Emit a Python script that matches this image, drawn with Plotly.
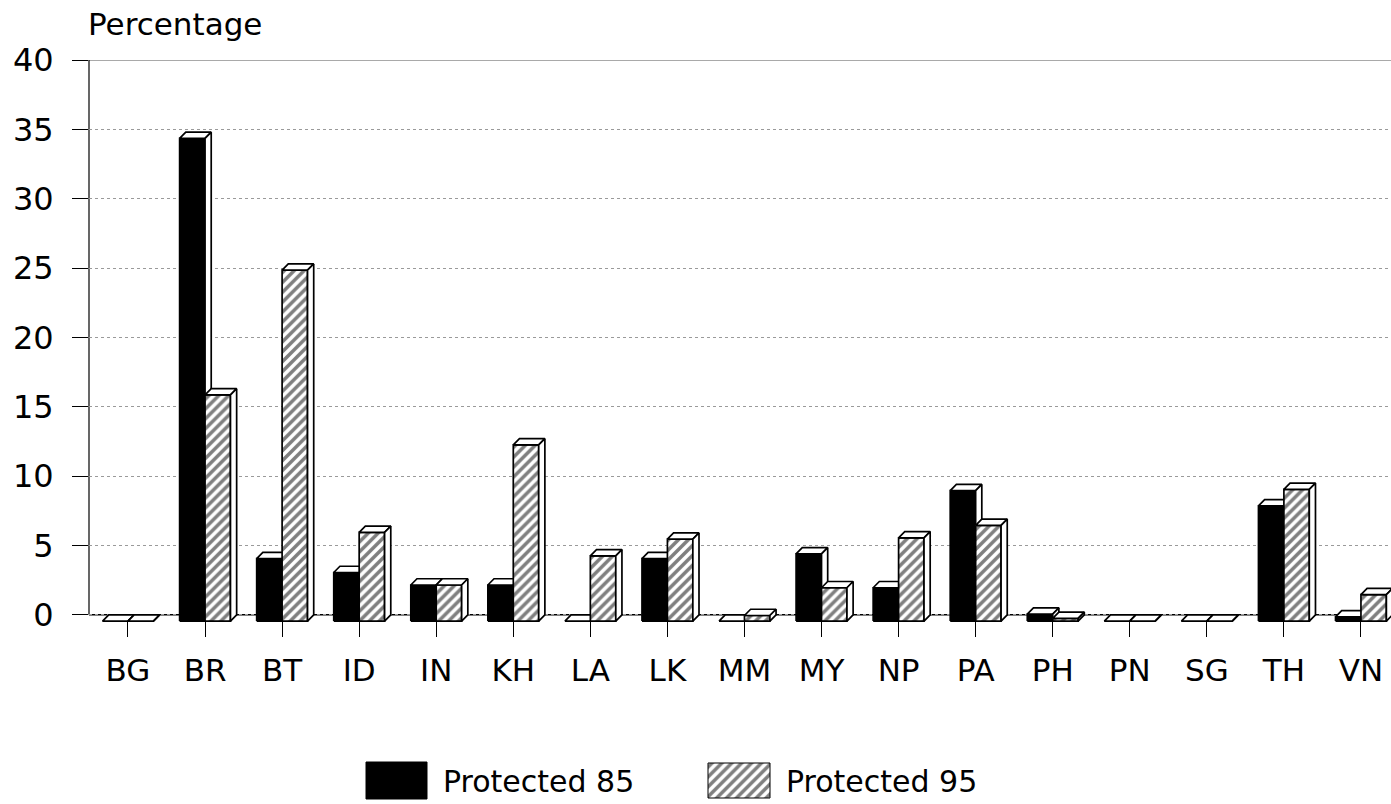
import plotly.graph_objects as go

# ---- data -------------------------------------------------------------
countries = ["BG", "BR", "BT", "ID", "IN", "KH", "LA", "LK", "MM",
             "MY", "NP", "PA", "PH", "PN", "SG", "TH", "VN"]
protected_85 = [0.0, 34.8, 4.5, 3.5, 2.6, 2.6, 0.0, 4.5, 0.0,
                4.85, 2.4, 9.4, 0.5, 0.0, 0.0, 8.3, 0.3]
protected_95 = [0.0, 16.3, 25.3, 6.4, 2.6, 12.7, 4.7, 5.9, 0.4,
                2.4, 6.0, 6.9, 0.2, 0.0, 0.0, 9.5, 1.9]
y_ticks = [0, 5, 10, 15, 20, 25, 30, 35, 40]
series_names = ["Protected 85", "Protected 95"]

# ---- geometry of the pseudo-3D bars (axis units) ----------------------
BAR_W = 0.33      # width of one bar's front face
DEPTH_X = 0.08    # horizontal depth offset
DEPTH_Y = 0.45    # vertical depth offset

W, H = 1391, 804
FONT = "DejaVu Sans"
X_RANGE = [-0.506, 16.39]
Y_RANGE = [-1.6, 40]


def bar_faces(values, offset):
    """Front, top and side polygons for a row of bars (None-separated)."""
    fx, fy, tx, ty, sx, sy = [], [], [], [], [], []
    for i, v in enumerate(values):
        x0 = i + offset
        x1 = x0 + BAR_W
        y0 = -DEPTH_Y
        y1 = v - DEPTH_Y
        fx += [x0, x1, x1, x0, x0, None]
        fy += [y0, y0, y1, y1, y0, None]
        tx += [x0, x1, x1 + DEPTH_X, x0 + DEPTH_X, x0, None]
        ty += [y1, y1, y1 + DEPTH_Y, y1 + DEPTH_Y, y1, None]
        sx += [x1, x1 + DEPTH_X, x1 + DEPTH_X, x1, x1, None]
        sy += [y0, y0 + DEPTH_Y, y1 + DEPTH_Y, y1, y0, None]
    return (fx, fy), (tx, ty), (sx, sy)


outline = dict(color="black", width=1.7)
hatch = dict(shape="/", fgcolor="black", bgcolor="white", size=7, solidity=0.5)

fig = go.Figure()


def add_series(values, offset, name, solid):
    front, top, side = bar_faces(values, offset)
    front_kw = dict(fillcolor="black") if solid else dict(fillcolor="white", fillpattern=hatch)
    fig.add_trace(go.Scatter(x=front[0], y=front[1], mode="lines", fill="toself",
                             line=outline, name=name, showlegend=False,
                             hoverinfo="skip", **front_kw))
    for xs, ys in (top, side):
        fig.add_trace(go.Scatter(x=xs, y=ys, mode="lines", fill="toself",
                                 fillcolor="white", line=outline, showlegend=False,
                                 hoverinfo="skip"))


add_series(protected_85, -BAR_W, series_names[0], True)
add_series(protected_95, 0.0, series_names[1], False)

# ---- legend drawn on a full-figure overlay axis (pixel units) --------
legend_boxes = [(366, 427, 762, 799), (708, 770, 763, 798)]
for (x0, x1, y0, y1), solid in zip(legend_boxes, (True, False)):
    kw = dict(fillcolor="black") if solid else dict(fillcolor="white", fillpattern=hatch)
    fig.add_trace(go.Scatter(x=[x0, x1, x1, x0, x0], y=[y0, y0, y1, y1, y0],
                             mode="lines", fill="toself", line=dict(color="black", width=1),
                             xaxis="x2", yaxis="y2", showlegend=False, hoverinfo="skip", **kw))

for label, xl in zip(series_names, (441, 784)):
    fig.add_annotation(text=label, x=xl / W, y=1 - 781 / H, xref="paper", yref="paper",
                       xanchor="left", yanchor="middle", showarrow=False,
                       font=dict(family=FONT, size=30, color="black"))

fig.add_annotation(text="Percentage", x=86 / W, y=1 - 24 / H, xref="paper", yref="paper",
                   xanchor="left", yanchor="middle", showarrow=False,
                   font=dict(family=FONT, size=31, color="black"))

# ---- back wall lines ----------------------------------------------------
fig.add_shape(type="line", xref="x domain", yref="y", x0=0, x1=1, y0=0, y1=0,
              line=dict(color="black", width=1.5), layer="below")
fig.add_shape(type="line", xref="x domain", yref="y", x0=0, x1=1, y0=40, y1=40,
              line=dict(color="#555555", width=1), layer="below")
fig.add_shape(type="line", xref="x domain", yref="y", x0=0, x1=0, y0=0, y1=40,
              line=dict(color="black", width=1.2), layer="below")

fig.update_layout(
    width=W, height=H,
    margin=dict(l=0, r=0, t=0, b=0, pad=0, autoexpand=False),
    paper_bgcolor="white", plot_bgcolor="rgba(0,0,0,0)",
    showlegend=False,
    xaxis=dict(domain=[89 / W, 1], range=X_RANGE, automargin=False,
               tickmode="array", tickvals=list(range(len(countries))), ticktext=countries,
               ticks="inside", ticklen=15, tickwidth=1.3, tickcolor="black",
               showgrid=False, zeroline=False, showline=False,
               ticklabelstandoff=12,
               tickfont=dict(family=FONT, size=31, color="black")),
    yaxis=dict(domain=[1 - 637 / H, 1 - 60 / H], range=Y_RANGE, automargin=False,
               tickmode="array", tickvals=y_ticks,
               ticks="outside", ticklen=16, tickwidth=1, tickcolor="black",
               showgrid=True, gridcolor="#9a9a9a", griddash="dot", gridwidth=1,
               zeroline=False, showline=False,
               ticklabelstandoff=12,
               tickfont=dict(family=FONT, size=32, color="black")),
    xaxis2=dict(domain=[0, 1], range=[0, W], visible=False, anchor="y2",
                automargin=False, fixedrange=True),
    yaxis2=dict(domain=[0, 1], range=[H, 0], visible=False, anchor="x2",
                automargin=False, fixedrange=True),
)

fig.write_html("out.html")
